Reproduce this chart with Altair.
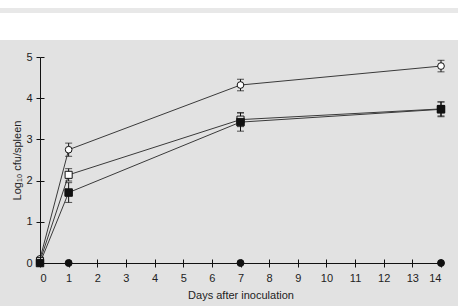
import altair as alt
import pandas as pd

# Spleen colonisation over time, mean log10 cfu per spleen with error bars
days = [0, 1, 7, 14]

open_circle = [0.1, 2.75, 4.32, 4.78]
open_circle_err = [0.0, 0.16, 0.14, 0.14]

open_square = [0.05, 2.14, 3.48, 3.74]
open_square_err = [0.0, 0.15, 0.17, 0.17]

filled_square = [0.0, 1.71, 3.42, 3.73]
filled_square_err = [0.0, 0.24, 0.22, 0.18]

filled_circle = [0.0, 0.0, 0.0, 0.0]

x_ticks = list(range(0, 15))
y_ticks = [0, 1, 2, 3, 4, 5]

FONT = "Liberation Sans"
INK = "#111111"
TEXT = "#222222"
PANEL = "#e2e2e2"


def frame(name, values, errs):
    return pd.DataFrame({
        "series": name,
        "day": days,
        "value": values,
        "lo": [v - e for v, e in zip(values, errs)],
        "hi": [v + e for v, e in zip(values, errs)],
        "has_err": [e > 0 for e in errs],
    })


oc = frame("open circle", open_circle, open_circle_err)
osq = frame("open square", open_square, open_square_err)
fsq = frame("filled square", filled_square, filled_square_err)
fc = frame("filled circle", filled_circle, [0.0] * 4)
curves = pd.concat([oc, osq, fsq], ignore_index=True)
errs = curves[curves["has_err"]]

x_scale = alt.Scale(domain=[0, 14], nice=False, zero=False)
y_scale = alt.Scale(domain=[0, 5], nice=False)

main_x = alt.X("day:Q", scale=x_scale, axis=alt.Axis(
    values=x_ticks, grid=False, domainColor=INK, tickColor=INK, tickSize=4,
    labelFont=FONT, labelFontSize=11, labelColor=TEXT, labelPadding=5,
    title="Days after inoculation", titleFont=FONT, titleFontSize=11,
    titleFontWeight="normal", titleColor=TEXT, titlePadding=6, zindex=1))
main_y = alt.Y("value:Q", scale=y_scale, axis=alt.Axis(
    values=y_ticks, grid=False, domainColor=INK, tickColor=INK, tickSize=4,
    labelFont=FONT, labelFontSize=11, labelColor=TEXT, labelPadding=4,
    title="Log₁₀ cfu/spleen", titleFont=FONT, titleFontSize=11,
    titleFontWeight="normal", titleColor=TEXT, titlePadding=3, zindex=1))

# inner halves of the crossing tick marks
inner_x = alt.X("day:Q", scale=x_scale, axis=alt.Axis(
    values=x_ticks, orient="bottom", offset=-4, domain=False, labels=False,
    grid=False, tickColor=INK, tickSize=4, title=None, zindex=1))
inner_y = alt.Y("value:Q", scale=y_scale, axis=alt.Axis(
    values=y_ticks, orient="left", offset=-4, domain=False, labels=False,
    grid=False, tickColor=INK, tickSize=4, title=None, zindex=1))

nx = alt.X("day:Q", scale=x_scale, axis=None)
ny = alt.Y("value:Q", scale=y_scale, axis=None)

# page decoration: light strip at the top and grey panel behind the figure
deco = pd.DataFrame({"k": [0]})
panel = alt.Chart(deco).mark_rect(color=PANEL).encode(
    x=alt.value(-40), x2=alt.value(418), y=alt.value(-17), y2=alt.value(249))
strip = alt.Chart(deco).mark_rect(color="#e8e8e8").encode(
    x=alt.value(-40), x2=alt.value(418), y=alt.value(-49), y2=alt.value(-44))

lines = alt.Chart(curves).mark_line(color="#3a3a3a", strokeWidth=1).encode(
    x=main_x, y=main_y, detail="series:N")

bars = alt.Chart(errs).mark_rule(color=INK, strokeWidth=1).encode(
    x=nx, y=alt.Y("lo:Q", scale=y_scale, axis=None), y2="hi:Q")
caps_lo = alt.Chart(errs).mark_tick(
    orient="horizontal", color=INK, size=7, thickness=1).encode(
    x=nx, y=alt.Y("lo:Q", scale=y_scale, axis=None))
caps_hi = alt.Chart(errs).mark_tick(
    orient="horizontal", color=INK, size=7, thickness=1).encode(
    x=nx, y=alt.Y("hi:Q", scale=y_scale, axis=None))

pts_oc = alt.Chart(oc).mark_point(
    shape="circle", size=45, filled=True, fill="white", stroke=INK,
    strokeWidth=1, opacity=1).encode(x=nx, y=ny)
pts_osq = alt.Chart(osq).mark_point(
    shape="square", size=50, filled=True, fill="white", stroke=INK,
    strokeWidth=1, opacity=1).encode(x=nx, y=ny)
pts_fsq = alt.Chart(fsq).mark_point(
    shape="square", size=56, filled=True, fill=INK, stroke=INK,
    strokeWidth=1, opacity=1).encode(x=nx, y=ny)
pts_fc = alt.Chart(fc).mark_point(
    shape="circle", size=48, filled=True, fill=INK, stroke=INK,
    strokeWidth=1, opacity=1).encode(x=inner_x, y=inner_y)

chart = alt.layer(
    panel, strip, lines, bars, caps_lo, caps_hi,
    pts_oc, pts_osq, pts_fsq, pts_fc,
).resolve_axis(
    x="independent", y="independent"
).properties(
    width=401, height=206,
    autosize=alt.AutoSizeParams(type="none"),
    padding={"left": 40, "top": 57, "right": 17, "bottom": 43},
    background="white",
).configure_view(stroke=None)

chart.save("out.html", embed_options={"renderer": "svg", "actions": False})
